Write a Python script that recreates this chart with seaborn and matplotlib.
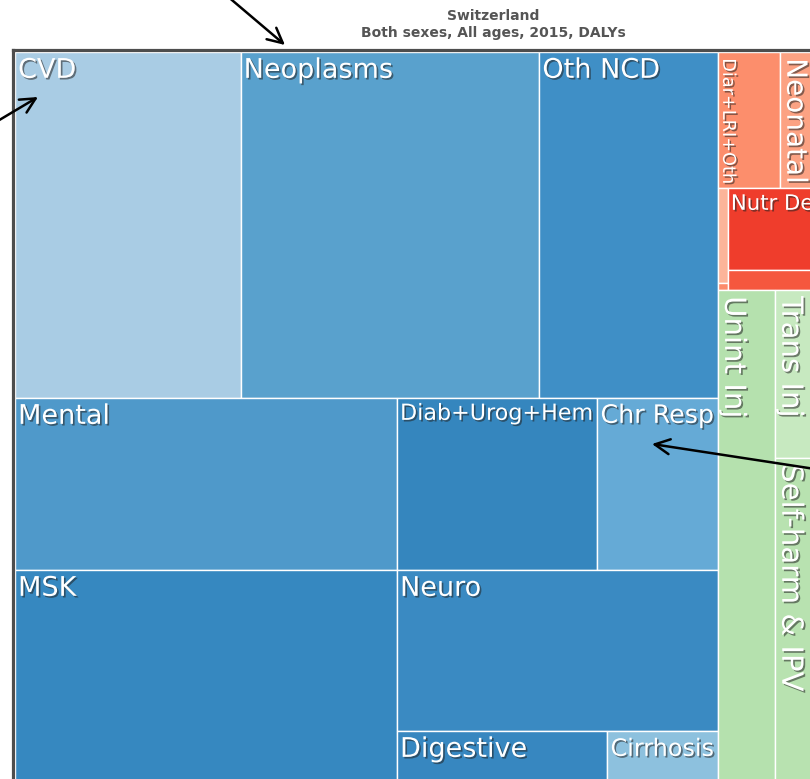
import matplotlib
matplotlib.use("Agg")
import pandas as pd
import seaborn as sns
import matplotlib.pyplot as plt
import matplotlib.patheffects as pe

# DALYs by cause, Switzerland 2015 (thousands)
causes = ["CVD", "Neoplasms", "Oth NCD", "Mental", "MSK", "Diab+Urog+Hem",
          "Chr Resp", "Neuro", "Digestive", "Cirrhosis",
          "Diar+LRI+Oth", "Neonatal", "HIV/AIDS & TB", "NTDs & Malaria",
          "Nutr Def", "Oth Comm",
          "Unint Inj", "Trans Inj", "Self-harm & IPV"]
dalys = [293.8, 389.1, 232.4, 247.3, 337.9, 129.8,
         77.9, 194.4, 58.6, 30.7,
         31.8, 23.1, 3.6, 0.26,
         30.0, 7.3,
         110.8, 31.7, 65.5]
groups = ["NCD"] * 10 + ["Comm"] * 6 + ["Inj"] * 3

palette = ["#a9cce4", "#59a1cd", "#3f8fc6", "#4f99ca", "#3688c0", "#3586be",
           "#65aad6", "#3a8ac2", "#3787c0", "#8dc1de",
           "#fc8e6c", "#fca283", "#fcb499", "#fc8a6a",
           "#ef3d2c", "#f5573e",
           "#b5e1ae", "#c7e9c0", "#b8e2b0"]

# nesting of the treemap: "h" = side by side, "v" = stacked
tree = ("h", [
    ("v", [
        ("h", ["CVD", "Neoplasms", "Oth NCD"]),
        ("h", [("v", ["Mental", "MSK"]),
               ("v", [("h", ["Diab+Urog+Hem", "Chr Resp"]), "Neuro",
                      ("h", ["Digestive", "Cirrhosis"])])]),
    ]),
    ("v", [
        ("v", [("h", ["Diar+LRI+Oth", "Neonatal"]),
               ("h", [("v", ["HIV/AIDS & TB", "NTDs & Malaria"]),
                      ("v", ["Nutr Def", "Oth Comm"])])]),
        ("h", ["Unint Inj", ("v", ["Trans Inj", "Self-harm & IPV"])]),
    ]),
])

df = pd.DataFrame({"cause": causes, "dalys": dalys, "group": groups})
value = dict(zip(causes, dalys))


def total(node):
    if isinstance(node, str):
        return value[node]
    return sum(total(k) for k in node[1])


def place(node, x, y, w, h, out):
    if isinstance(node, str):
        out[node] = (x, y, w, h)
        return
    d, kids = node
    s = total(node)
    for k in kids:
        f = total(k) / s
        if d == "h":
            place(k, x, y, w * f, h, out)
            x += w * f
        else:
            place(k, x, y, w, h * f, out)
            y += h * f


rects = {}
place(tree, 0.0, 0.0, 1.0, 1.0, rects)
df[["x", "y", "w", "h"]] = [rects[c] for c in df["cause"]]

sns.set_theme(style="white")
plt.rcParams["font.family"] = ["DejaVu Sans"]

fig = plt.figure(figsize=(8.1, 7.79), dpi=100)
ax = fig.add_axes([13 / 810, (779 - 807.5) / 779, 814 / 810, 758 / 779])

ax.bar(df["x"], df["h"], width=df["w"], bottom=df["y"], align="edge",
       color=palette, edgecolor="white", linewidth=1)

ax.set_xlim(-2 / 810, 1 + 2 / 810)
ax.set_ylim(1 + 2.5 / 753, -2.5 / 753)
ax.set_xticks([])
ax.set_yticks([])
for s in ax.spines.values():
    s.set_color("#4d4d4d")
    s.set_linewidth(2.3)

# labels, shrunk / turned to fit their box
r = fig.canvas.get_renderer()
base_h, base_v = 19.5, 21
shadow = [pe.SimplePatchShadow(offset=(1.2, -1.2), shadow_rgbFace="#222", alpha=0.55),
          pe.Normal()]
for _, row in df.iterrows():
    (px0, py0) = ax.transData.transform((row.x, row.y))
    (px1, py1) = ax.transData.transform((row.x + row.w, row.y + row.h))
    bw, bh = abs(px1 - px0), abs(py1 - py0)
    if bw < 30 or bh < 30:
        continue
    probe = ax.text(0, 0, row.cause, fontsize=10)
    ext = probe.get_window_extent(r)
    probe.remove()
    tw, th = ext.width / 10, ext.height / 10
    size_h = min(base_h, (bw - 7) / tw, (bh - 6) / th)
    size_v = min(base_v, (bh - 10) / tw, (bw - 4) / th)
    if size_h >= 10.5 or size_h >= size_v:
        size, rot, off = size_h, 0, (2.2, -4.2)
    else:
        size, rot, off = size_v, -90, (1.0, -4.5)
    if size < 8:
        continue
    ax.annotate(row.cause, xy=(row.x, row.y), xytext=off, textcoords="offset points",
                ha="left", va="top", rotation=rot, fontsize=size, color="white",
                path_effects=shadow, annotation_clip=False)

fig.text(493 / 810, 1 - 16 / 779, "Switzerland", ha="center", va="center",
         fontsize=10, fontweight="bold", color="#555555")
fig.text(493 / 810, 1 - 33 / 779, "Both sexes, All ages, 2015, DALYs", ha="center",
         va="center", fontsize=10, fontweight="bold", color="#555555")

# pointer arrows drawn over the chart
arrow = dict(arrowstyle="->,head_length=0.9,head_width=0.45", lw=1.8, color="black",
             shrinkA=0, shrinkB=0)
for tail, head in [((226, 784), (285, 734)), ((-4, 657), (38, 682)),
                   ((815, 310), (652, 335))]:
    ax.annotate("", xy=head, xycoords="figure pixels", xytext=tail,
                textcoords="figure pixels", arrowprops=arrow, annotation_clip=False)

fig.savefig("out.png", dpi=100)
